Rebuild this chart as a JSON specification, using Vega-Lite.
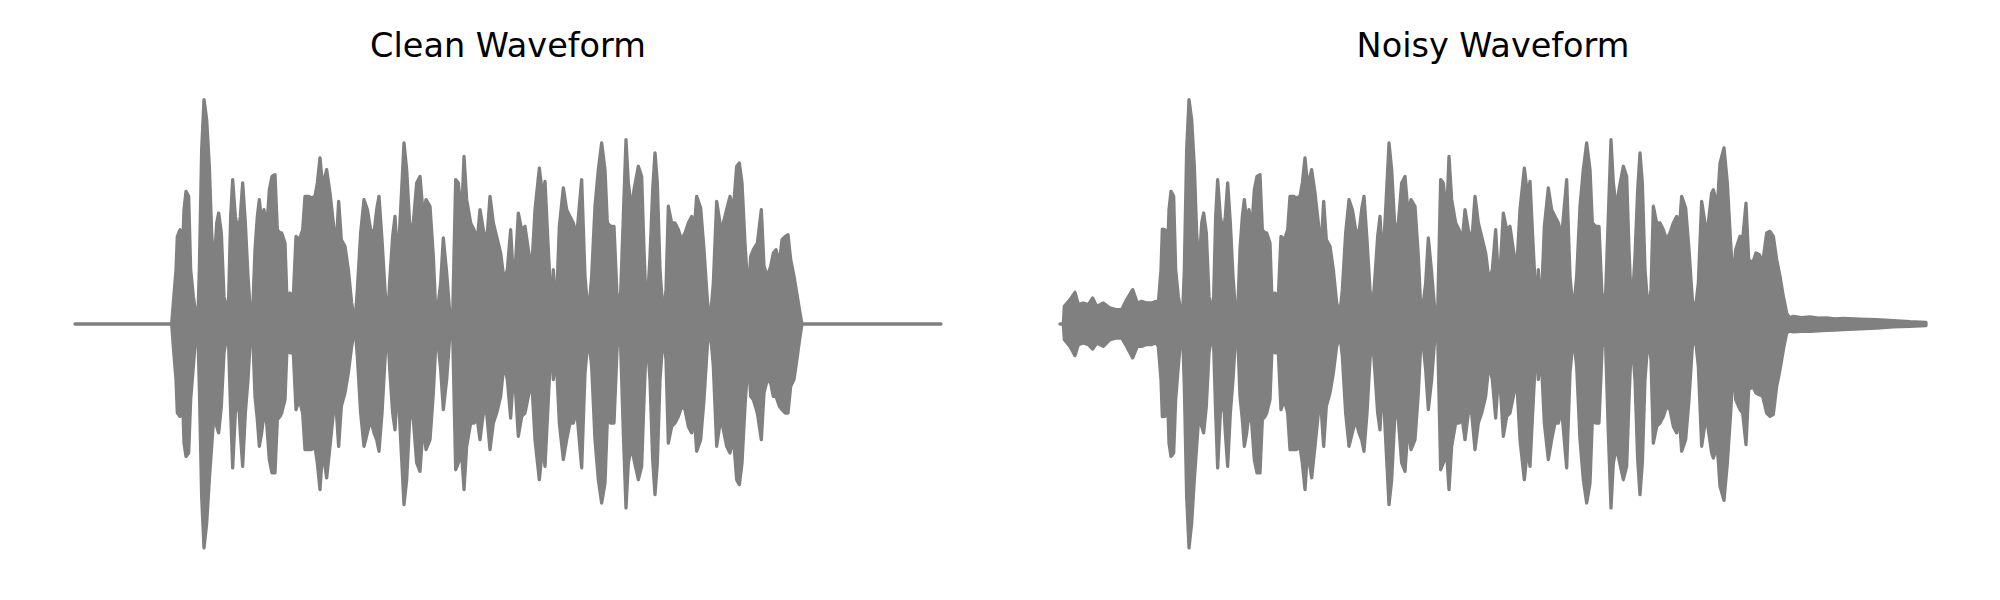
{
"$schema": "https://vega.github.io/schema/vega-lite/v6.json",
"background": "white",
"padding": {"left": 73, "top": 30, "right": 0, "bottom": 0},
"spacing": 119,
"bounds": "flush",
"config": {"view": {"stroke": null}, "title": {"font": "DejaVu Sans", "fontSize": 33.5, "fontWeight": "normal", "color": "#000000", "offset": 33, "anchor": "middle"}},
"datasets": {
"clean": [
{"frame":0,"hi":0,"lo":0},{"frame":290,"hi":0,"lo":0},{"frame":295,"hi":0.093,"lo":-0.099},{"frame":303,"hi":0.240,"lo":-0.246},{"frame":307,"hi":0.388,"lo":-0.394},{"frame":315,"hi":0.417,"lo":-0.409},{"frame":323,"hi":0.329,"lo":-0.335},{"frame":327,"hi":0.506,"lo":-0.527},{"frame":333,"hi":0.587,"lo":-0.586},{"frame":341,"hi":0.565,"lo":-0.571},{"frame":347,"hi":0.240,"lo":-0.335},{"frame":355,"hi":0.122,"lo":-0.187},{"frame":363,"hi":0.034,"lo":-0.040},{"frame":368,"hi":0,"lo":-0.003},{"frame":373,"hi":0.240,"lo":-0.276},{"frame":380,"hi":0.771,"lo":-0.763},{"frame":387,"hi":0.993,"lo":-0.991},{"frame":395,"hi":0.904,"lo":-0.881},{"frame":403,"hi":0.698,"lo":-0.689},{"frame":410,"hi":0.403,"lo":-0.541},{"frame":417,"hi":0.240,"lo":-0.394},{"frame":425,"hi":0.447,"lo":-0.453},{"frame":431,"hi":0.491,"lo":-0.482},{"frame":439,"hi":0.403,"lo":-0.364},{"frame":447,"hi":0.122,"lo":-0.128},{"frame":455,"hi":0.049,"lo":-0.055},{"frame":461,"hi":0.122,"lo":-0.099},{"frame":467,"hi":0.476,"lo":-0.394},{"frame":473,"hi":0.639,"lo":-0.637},{"frame":481,"hi":0.476,"lo":-0.394},{"frame":490,"hi":0.403,"lo":-0.320},{"frame":496,"hi":0.476,"lo":-0.482},{"frame":503,"hi":0.624,"lo":-0.630},{"frame":511,"hi":0.447,"lo":-0.394},{"frame":519,"hi":0.211,"lo":-0.246},{"frame":527,"hi":0.034,"lo":-0.040},{"frame":533,"hi":0.049,"lo":-0.040},{"frame":540,"hi":0.329,"lo":-0.320},{"frame":547,"hi":0.476,"lo":-0.423},{"frame":553,"hi":0.550,"lo":-0.541},{"frame":560,"hi":0.447,"lo":-0.482},{"frame":567,"hi":0.506,"lo":-0.394},{"frame":575,"hi":0.417,"lo":-0.438},{"frame":583,"hi":0.594,"lo":-0.600},{"frame":591,"hi":0.653,"lo":-0.659},{"frame":600,"hi":0.661,"lo":-0.659},{"frame":607,"hi":0.417,"lo":-0.423},{"frame":615,"hi":0.403,"lo":-0.409},
{"frame":620,"hi":0.403,"lo":-0.394},{"frame":630,"hi":0.358,"lo":-0.335},{"frame":637,"hi":0.063,"lo":-0.069},{"frame":645,"hi":0.137,"lo":-0.128},{"frame":655,"hi":0.122,"lo":-0.128},{"frame":663,"hi":0.388,"lo":-0.379},{"frame":673,"hi":0.373,"lo":-0.335},{"frame":683,"hi":0.417,"lo":-0.394},{"frame":690,"hi":0.565,"lo":-0.556},{"frame":700,"hi":0.565,"lo":-0.556},{"frame":710,"hi":0.558,"lo":-0.556},{"frame":720,"hi":0.565,"lo":-0.541},{"frame":727,"hi":0.624,"lo":-0.615},{"frame":735,"hi":0.735,"lo":-0.733},{"frame":743,"hi":0.609,"lo":-0.556},{"frame":755,"hi":0.683,"lo":-0.681},{"frame":765,"hi":0.580,"lo":-0.541},{"frame":775,"hi":0.447,"lo":-0.394},{"frame":783,"hi":0.329,"lo":-0.364},{"frame":791,"hi":0.543,"lo":-0.541},{"frame":799,"hi":0.373,"lo":-0.364},{"frame":810,"hi":0.344,"lo":-0.305},{"frame":820,"hi":0.240,"lo":-0.217},{"frame":830,"hi":0.093,"lo":-0.099},{"frame":840,"hi":0.004,"lo":-0.010},{"frame":847,"hi":0.152,"lo":-0.143},{"frame":857,"hi":0.403,"lo":-0.394},{"frame":867,"hi":0.550,"lo":-0.541},{"frame":877,"hi":0.506,"lo":-0.482},{"frame":887,"hi":0.417,"lo":-0.423},{"frame":897,"hi":0.403,"lo":-0.482},{"frame":905,"hi":0.506,"lo":-0.512},{"frame":912,"hi":0.565,"lo":-0.563},{"frame":921,"hi":0.373,"lo":-0.394},{"frame":930,"hi":0.152,"lo":-0.158},{"frame":937,"hi":0.004,"lo":-0.010},{"frame":945,"hi":0.211,"lo":-0.217},{"frame":953,"hi":0.388,"lo":-0.394},{"frame":960,"hi":0.476,"lo":-0.468},{"frame":968,"hi":0.270,"lo":-0.246},{"frame":977,"hi":0.506,"lo":-0.512},{"frame":987,"hi":0.801,"lo":-0.799},{"frame":995,"hi":0.683,"lo":-0.689},{"frame":1005,"hi":0.417,"lo":-0.394},{"frame":1015,"hi":0.447,"lo":-0.423},{"frame":1025,"hi":0.624,"lo":-0.615},{"frame":1035,"hi":0.653,"lo":-0.652},{"frame":1045,"hi":0.476,"lo":-0.438},{"frame":1053,"hi":0.550,"lo":-0.556},{"frame":1065,"hi":0.521,"lo":-0.512},{"frame":1075,"hi":0.299,"lo":-0.305},{"frame":1083,"hi":0.034,"lo":-0.069},{"frame":1090,"hi":0.093,"lo":-0.099},{"frame":1097,"hi":0.181,"lo":-0.202},{"frame":1105,"hi":0.381,"lo":-0.379},{"frame":1115,"hi":0.226,"lo":-0.246},{"frame":1125,"hi":0.034,"lo":-0.040},{"frame":1133,"hi":0.034,"lo":-0.040},{"frame":1142,"hi":0.639,"lo":-0.645},{"frame":1150,"hi":0.624,"lo":-0.615},{"frame":1160,"hi":0.476,"lo":-0.571},{"frame":1167,"hi":0.742,"lo":-0.733},{"frame":1175,"hi":0.550,"lo":-0.541},{"frame":1187,"hi":0.447,"lo":-0.438},{"frame":1197,"hi":0.417,"lo":-0.438},{"frame":1207,"hi":0.373,"lo":-0.423},{"frame":1215,"hi":0.506,"lo":-0.512},{"frame":1225,"hi":0.417,"lo":-0.394},{"frame":1235,"hi":0.358,"lo":-0.394},{"frame":1245,"hi":0.565,"lo":-0.556},{"frame":1255,"hi":0.447,"lo":-0.438},{"frame":1265,"hi":0.388,"lo":-0.394},
{"frame":1277,"hi":0.314,"lo":-0.320},{"frame":1287,"hi":0.196,"lo":-0.173},{"frame":1297,"hi":0.240,"lo":-0.246},{"frame":1307,"hi":0.417,"lo":-0.416},{"frame":1317,"hi":0.152,"lo":-0.187},{"frame":1330,"hi":0.491,"lo":-0.497},{"frame":1340,"hi":0.417,"lo":-0.409},{"frame":1350,"hi":0.432,"lo":-0.394},{"frame":1360,"hi":0.329,"lo":-0.320},{"frame":1370,"hi":0.240,"lo":-0.246},{"frame":1380,"hi":0.506,"lo":-0.512},{"frame":1393,"hi":0.690,"lo":-0.689},{"frame":1403,"hi":0.565,"lo":-0.541},{"frame":1410,"hi":0.631,"lo":-0.630},{"frame":1420,"hi":0.329,"lo":-0.335},{"frame":1430,"hi":0.034,"lo":-0.040},{"frame":1435,"hi":0.240,"lo":-0.246},{"frame":1443,"hi":0.034,"lo":-0.128},{"frame":1453,"hi":0.432,"lo":-0.438},{"frame":1465,"hi":0.602,"lo":-0.600},{"frame":1475,"hi":0.506,"lo":-0.512},{"frame":1485,"hi":0.476,"lo":-0.438},{"frame":1495,"hi":0.447,"lo":-0.438},{"frame":1505,"hi":0.388,"lo":-0.379},{"frame":1520,"hi":0.639,"lo":-0.637},{"frame":1530,"hi":0.211,"lo":-0.217},{"frame":1540,"hi":0.034,"lo":-0.055},{"frame":1550,"hi":0.211,"lo":-0.187},{"frame":1560,"hi":0.521,"lo":-0.512},{"frame":1570,"hi":0.683,"lo":-0.689},{"frame":1580,"hi":0.801,"lo":-0.792},{"frame":1590,"hi":0.683,"lo":-0.704},{"frame":1597,"hi":0.447,"lo":-0.423},{"frame":1607,"hi":0.432,"lo":-0.438},{"frame":1617,"hi":0.432,"lo":-0.438},{"frame":1627,"hi":0.093,"lo":-0.084},{"frame":1637,"hi":0.137,"lo":-0.099},{"frame":1645,"hi":0.476,"lo":-0.482},{"frame":1653,"hi":0.816,"lo":-0.814},{"frame":1660,"hi":0.624,"lo":-0.615},{"frame":1670,"hi":0.506,"lo":-0.541},{"frame":1677,"hi":0.594,"lo":-0.600},{"frame":1690,"hi":0.698,"lo":-0.689},{"frame":1700,"hi":0.653,"lo":-0.630},{"frame":1707,"hi":0.329,"lo":-0.335},{"frame":1715,"hi":0.034,"lo":-0.040},{"frame":1725,"hi":0.299,"lo":-0.246},{"frame":1733,"hi":0.594,"lo":-0.600},{"frame":1740,"hi":0.757,"lo":-0.755},{"frame":1747,"hi":0.624,"lo":-0.615},{"frame":1755,"hi":0.240,"lo":-0.246},{"frame":1765,"hi":0.034,"lo":-0.040},{"frame":1773,"hi":0.152,"lo":-0.158},{"frame":1780,"hi":0.521,"lo":-0.527},{"frame":1790,"hi":0.447,"lo":-0.453},{"frame":1800,"hi":0.447,"lo":-0.438},{"frame":1810,"hi":0.417,"lo":-0.409},{"frame":1820,"hi":0.373,"lo":-0.364},{"frame":1830,"hi":0.403,"lo":-0.379},{"frame":1840,"hi":0.447,"lo":-0.453},{"frame":1850,"hi":0.476,"lo":-0.482},{"frame":1857,"hi":0.403,"lo":-0.394},{"frame":1865,"hi":0.565,"lo":-0.563},{"frame":1877,"hi":0.513,"lo":-0.512},{"frame":1887,"hi":0.329,"lo":-0.335},{"frame":1897,"hi":0.108,"lo":-0.099},{"frame":1905,"hi":0.004,"lo":-0.010},{"frame":1915,"hi":0.181,"lo":-0.187},{"frame":1925,"hi":0.543,"lo":-0.541},
{"frame":1938,"hi":0.417,"lo":-0.409},{"frame":1945,"hi":0.447,"lo":-0.468},{"frame":1955,"hi":0.506,"lo":-0.541},{"frame":1965,"hi":0.565,"lo":-0.571},{"frame":1975,"hi":0.506,"lo":-0.497},{"frame":1985,"hi":0.698,"lo":-0.689},{"frame":1993,"hi":0.712,"lo":-0.711},{"frame":2001,"hi":0.624,"lo":-0.615},{"frame":2010,"hi":0.358,"lo":-0.364},{"frame":2020,"hi":0.122,"lo":-0.143},{"frame":2027,"hi":0.299,"lo":-0.320},{"frame":2035,"hi":0.329,"lo":-0.335},{"frame":2047,"hi":0.358,"lo":-0.394},{"frame":2059,"hi":0.506,"lo":-0.512},{"frame":2067,"hi":0.255,"lo":-0.305},{"frame":2077,"hi":0.211,"lo":-0.246},{"frame":2087,"hi":0.255,"lo":-0.261},{"frame":2095,"hi":0.314,"lo":-0.320},{"frame":2103,"hi":0.329,"lo":-0.320},{"frame":2113,"hi":0.270,"lo":-0.364},{"frame":2121,"hi":0.373,"lo":-0.379},{"frame":2131,"hi":0.388,"lo":-0.394},{"frame":2139,"hi":0.395,"lo":-0.394},{"frame":2147,"hi":0.285,"lo":-0.276},{"frame":2157,"hi":0.211,"lo":-0.246},{"frame":2167,"hi":0.122,"lo":-0.143},{"frame":2175,"hi":0.049,"lo":-0.055},{"frame":2181,"hi":0,"lo":0},{"frame":2598,"hi":0,"lo":0}
],
"noisy": [
{"frame":0,"hi":0,"lo":0},{"frame":10,"hi":0,"lo":0},{"frame":13,"hi":0.078,"lo":-0.069},{"frame":30,"hi":0.108,"lo":-0.099},{"frame":45,"hi":0.140,"lo":-0.140},{"frame":55,"hi":0.086,"lo":-0.091},{"frame":70,"hi":0.093,"lo":-0.084},{"frame":85,"hi":0.086,"lo":-0.091},{"frame":98,"hi":0.115,"lo":-0.111},{"frame":110,"hi":0.078,"lo":-0.084},{"frame":130,"hi":0.093,"lo":-0.099},{"frame":150,"hi":0.071,"lo":-0.069},{"frame":170,"hi":0.063,"lo":-0.062},{"frame":185,"hi":0.063,"lo":-0.062},{"frame":200,"hi":0.108,"lo":-0.099},{"frame":218,"hi":0.152,"lo":-0.150},{"frame":232,"hi":0.093,"lo":-0.099},{"frame":245,"hi":0.100,"lo":-0.099},{"frame":260,"hi":0.093,"lo":-0.091},{"frame":275,"hi":0.093,"lo":-0.091},{"frame":288,"hi":0.100,"lo":-0.084},{"frame":295,"hi":0.093,"lo":-0.099},{"frame":303,"hi":0.240,"lo":-0.246},{"frame":307,"hi":0.420,"lo":-0.410},{"frame":315,"hi":0.417,"lo":-0.409},{"frame":323,"hi":0.329,"lo":-0.335},{"frame":327,"hi":0.506,"lo":-0.527},{"frame":333,"hi":0.587,"lo":-0.586},{"frame":341,"hi":0.565,"lo":-0.571},{"frame":347,"hi":0.240,"lo":-0.335},{"frame":355,"hi":0.122,"lo":-0.187},{"frame":363,"hi":0.050,"lo":-0.050},{"frame":368,"hi":0.050,"lo":-0.050},{"frame":373,"hi":0.240,"lo":-0.276},{"frame":380,"hi":0.771,"lo":-0.763},{"frame":387,"hi":0.993,"lo":-0.991},{"frame":395,"hi":0.904,"lo":-0.881},{"frame":403,"hi":0.698,"lo":-0.689},{"frame":410,"hi":0.403,"lo":-0.541},{"frame":417,"hi":0.240,"lo":-0.394},{"frame":425,"hi":0.447,"lo":-0.453},{"frame":431,"hi":0.491,"lo":-0.482},{"frame":439,"hi":0.403,"lo":-0.364},{"frame":447,"hi":0.122,"lo":-0.128},{"frame":455,"hi":0.050,"lo":-0.055},{"frame":461,"hi":0.122,"lo":-0.099},{"frame":467,"hi":0.476,"lo":-0.394},{"frame":473,"hi":0.639,"lo":-0.637},{"frame":481,"hi":0.476,"lo":-0.394},{"frame":490,"hi":0.403,"lo":-0.320},{"frame":496,"hi":0.476,"lo":-0.482},{"frame":503,"hi":0.624,"lo":-0.630},{"frame":511,"hi":0.447,"lo":-0.394},{"frame":519,"hi":0.211,"lo":-0.246},{"frame":527,"hi":0.050,"lo":-0.050},{"frame":533,"hi":0.050,"lo":-0.050},{"frame":540,"hi":0.329,"lo":-0.320},{"frame":547,"hi":0.476,"lo":-0.423},{"frame":553,"hi":0.550,"lo":-0.541},{"frame":560,"hi":0.447,"lo":-0.482},{"frame":567,"hi":0.506,"lo":-0.394},{"frame":575,"hi":0.417,"lo":-0.438},{"frame":583,"hi":0.594,"lo":-0.600},{"frame":591,"hi":0.653,"lo":-0.659},{"frame":600,"hi":0.661,"lo":-0.659},{"frame":607,"hi":0.417,"lo":-0.423},{"frame":615,"hi":0.403,"lo":-0.409},
{"frame":620,"hi":0.403,"lo":-0.394},{"frame":630,"hi":0.358,"lo":-0.335},{"frame":637,"hi":0.063,"lo":-0.069},{"frame":645,"hi":0.137,"lo":-0.128},{"frame":655,"hi":0.122,"lo":-0.128},{"frame":663,"hi":0.388,"lo":-0.379},{"frame":673,"hi":0.373,"lo":-0.335},{"frame":683,"hi":0.417,"lo":-0.394},{"frame":690,"hi":0.565,"lo":-0.556},{"frame":700,"hi":0.565,"lo":-0.556},{"frame":710,"hi":0.558,"lo":-0.556},{"frame":720,"hi":0.565,"lo":-0.541},{"frame":727,"hi":0.624,"lo":-0.615},{"frame":735,"hi":0.735,"lo":-0.733},{"frame":743,"hi":0.609,"lo":-0.556},{"frame":755,"hi":0.683,"lo":-0.681},{"frame":765,"hi":0.580,"lo":-0.541},{"frame":775,"hi":0.447,"lo":-0.394},{"frame":783,"hi":0.329,"lo":-0.364},{"frame":791,"hi":0.543,"lo":-0.541},{"frame":799,"hi":0.373,"lo":-0.364},{"frame":810,"hi":0.344,"lo":-0.305},{"frame":820,"hi":0.240,"lo":-0.217},{"frame":830,"hi":0.093,"lo":-0.099},{"frame":840,"hi":0.050,"lo":-0.050},{"frame":847,"hi":0.152,"lo":-0.143},{"frame":857,"hi":0.403,"lo":-0.394},{"frame":867,"hi":0.550,"lo":-0.541},{"frame":877,"hi":0.506,"lo":-0.482},{"frame":887,"hi":0.417,"lo":-0.423},{"frame":897,"hi":0.403,"lo":-0.482},{"frame":905,"hi":0.506,"lo":-0.512},{"frame":912,"hi":0.565,"lo":-0.563},{"frame":921,"hi":0.373,"lo":-0.394},{"frame":930,"hi":0.152,"lo":-0.158},{"frame":937,"hi":0.050,"lo":-0.050},{"frame":945,"hi":0.211,"lo":-0.217},{"frame":953,"hi":0.388,"lo":-0.394},{"frame":960,"hi":0.476,"lo":-0.468},{"frame":968,"hi":0.270,"lo":-0.246},{"frame":977,"hi":0.506,"lo":-0.512},{"frame":987,"hi":0.801,"lo":-0.799},{"frame":995,"hi":0.683,"lo":-0.689},{"frame":1005,"hi":0.417,"lo":-0.394},{"frame":1015,"hi":0.447,"lo":-0.423},{"frame":1025,"hi":0.624,"lo":-0.615},{"frame":1035,"hi":0.653,"lo":-0.652},{"frame":1045,"hi":0.476,"lo":-0.438},{"frame":1053,"hi":0.550,"lo":-0.556},{"frame":1065,"hi":0.521,"lo":-0.512},{"frame":1075,"hi":0.299,"lo":-0.305},{"frame":1083,"hi":0.050,"lo":-0.069},{"frame":1090,"hi":0.093,"lo":-0.099},{"frame":1097,"hi":0.181,"lo":-0.202},{"frame":1105,"hi":0.381,"lo":-0.379},{"frame":1115,"hi":0.226,"lo":-0.246},{"frame":1125,"hi":0.050,"lo":-0.050},{"frame":1133,"hi":0.050,"lo":-0.050},{"frame":1142,"hi":0.639,"lo":-0.645},{"frame":1150,"hi":0.624,"lo":-0.615},{"frame":1160,"hi":0.476,"lo":-0.571},{"frame":1167,"hi":0.742,"lo":-0.733},{"frame":1175,"hi":0.550,"lo":-0.541},{"frame":1187,"hi":0.447,"lo":-0.438},{"frame":1197,"hi":0.417,"lo":-0.438},{"frame":1207,"hi":0.373,"lo":-0.423},{"frame":1215,"hi":0.506,"lo":-0.512},{"frame":1225,"hi":0.417,"lo":-0.394},{"frame":1235,"hi":0.358,"lo":-0.394},{"frame":1245,"hi":0.565,"lo":-0.556},{"frame":1255,"hi":0.447,"lo":-0.438},{"frame":1265,"hi":0.388,"lo":-0.394},
{"frame":1277,"hi":0.314,"lo":-0.320},{"frame":1287,"hi":0.196,"lo":-0.173},{"frame":1297,"hi":0.240,"lo":-0.246},{"frame":1307,"hi":0.417,"lo":-0.416},{"frame":1317,"hi":0.152,"lo":-0.187},{"frame":1330,"hi":0.491,"lo":-0.497},{"frame":1340,"hi":0.417,"lo":-0.409},{"frame":1350,"hi":0.432,"lo":-0.394},{"frame":1360,"hi":0.329,"lo":-0.320},{"frame":1370,"hi":0.240,"lo":-0.246},{"frame":1380,"hi":0.506,"lo":-0.512},{"frame":1393,"hi":0.690,"lo":-0.689},{"frame":1403,"hi":0.565,"lo":-0.541},{"frame":1410,"hi":0.631,"lo":-0.630},{"frame":1420,"hi":0.329,"lo":-0.335},{"frame":1430,"hi":0.050,"lo":-0.050},{"frame":1435,"hi":0.240,"lo":-0.246},{"frame":1443,"hi":0.050,"lo":-0.128},{"frame":1453,"hi":0.432,"lo":-0.438},{"frame":1465,"hi":0.602,"lo":-0.600},{"frame":1475,"hi":0.506,"lo":-0.512},{"frame":1485,"hi":0.476,"lo":-0.438},{"frame":1495,"hi":0.447,"lo":-0.438},{"frame":1505,"hi":0.388,"lo":-0.379},{"frame":1520,"hi":0.639,"lo":-0.637},{"frame":1530,"hi":0.211,"lo":-0.217},{"frame":1540,"hi":0.050,"lo":-0.055},{"frame":1550,"hi":0.211,"lo":-0.187},{"frame":1560,"hi":0.521,"lo":-0.512},{"frame":1570,"hi":0.683,"lo":-0.689},{"frame":1580,"hi":0.801,"lo":-0.792},{"frame":1590,"hi":0.683,"lo":-0.704},{"frame":1597,"hi":0.447,"lo":-0.423},{"frame":1607,"hi":0.432,"lo":-0.438},{"frame":1617,"hi":0.432,"lo":-0.438},{"frame":1627,"hi":0.093,"lo":-0.084},{"frame":1637,"hi":0.137,"lo":-0.099},{"frame":1645,"hi":0.476,"lo":-0.482},{"frame":1653,"hi":0.816,"lo":-0.814},{"frame":1660,"hi":0.624,"lo":-0.615},{"frame":1670,"hi":0.506,"lo":-0.541},{"frame":1677,"hi":0.594,"lo":-0.600},{"frame":1690,"hi":0.698,"lo":-0.689},{"frame":1700,"hi":0.653,"lo":-0.630},{"frame":1707,"hi":0.329,"lo":-0.335},{"frame":1715,"hi":0.050,"lo":-0.050},{"frame":1725,"hi":0.299,"lo":-0.246},{"frame":1733,"hi":0.594,"lo":-0.600},{"frame":1740,"hi":0.757,"lo":-0.755},{"frame":1747,"hi":0.624,"lo":-0.615},{"frame":1755,"hi":0.240,"lo":-0.246},{"frame":1765,"hi":0.050,"lo":-0.050},{"frame":1773,"hi":0.152,"lo":-0.158},{"frame":1780,"hi":0.521,"lo":-0.527},{"frame":1790,"hi":0.447,"lo":-0.453},{"frame":1800,"hi":0.447,"lo":-0.438},{"frame":1810,"hi":0.417,"lo":-0.409},{"frame":1820,"hi":0.373,"lo":-0.364},{"frame":1830,"hi":0.403,"lo":-0.379},{"frame":1840,"hi":0.447,"lo":-0.453},{"frame":1850,"hi":0.476,"lo":-0.482},{"frame":1857,"hi":0.403,"lo":-0.394},{"frame":1865,"hi":0.565,"lo":-0.563},{"frame":1877,"hi":0.513,"lo":-0.512},{"frame":1887,"hi":0.329,"lo":-0.335},{"frame":1897,"hi":0.108,"lo":-0.099},{"frame":1905,"hi":0.050,"lo":-0.050},{"frame":1915,"hi":0.181,"lo":-0.187},{"frame":1925,"hi":0.543,"lo":-0.541},
{"frame":1938,"hi":0.417,"lo":-0.409},{"frame":1945,"hi":0.447,"lo":-0.468},{"frame":1955,"hi":0.580,"lo":-0.571},{"frame":1960,"hi":0.594,"lo":-0.593},{"frame":1972,"hi":0.521,"lo":-0.541},{"frame":1980,"hi":0.712,"lo":-0.718},{"frame":1992,"hi":0.779,"lo":-0.780},{"frame":2002,"hi":0.624,"lo":-0.615},{"frame":2012,"hi":0.358,"lo":-0.394},{"frame":2020,"hi":0.181,"lo":-0.173},{"frame":2027,"hi":0.329,"lo":-0.335},{"frame":2040,"hi":0.388,"lo":-0.379},{"frame":2048,"hi":0.373,"lo":-0.394},{"frame":2058,"hi":0.535,"lo":-0.534},{"frame":2066,"hi":0.285,"lo":-0.291},{"frame":2078,"hi":0.270,"lo":-0.276},{"frame":2088,"hi":0.314,"lo":-0.305},{"frame":2098,"hi":0.307,"lo":-0.313},{"frame":2108,"hi":0.270,"lo":-0.320},{"frame":2120,"hi":0.403,"lo":-0.394},{"frame":2130,"hi":0.410,"lo":-0.409},{"frame":2140,"hi":0.388,"lo":-0.400},{"frame":2150,"hi":0.285,"lo":-0.276},{"frame":2160,"hi":0.211,"lo":-0.202},{"frame":2170,"hi":0.122,"lo":-0.114},{"frame":2180,"hi":0.049,"lo":-0.040},{"frame":2188,"hi":0.027,"lo":-0.032},{"frame":2200,"hi":0.034,"lo":-0.035},{"frame":2225,"hi":0.028,"lo":-0.033},{"frame":2250,"hi":0.031,"lo":-0.032},{"frame":2275,"hi":0.026,"lo":-0.030},{"frame":2300,"hi":0.027,"lo":-0.028},{"frame":2325,"hi":0.023,"lo":-0.027},{"frame":2350,"hi":0.025,"lo":-0.025},{"frame":2400,"hi":0.022,"lo":-0.022},{"frame":2450,"hi":0.019,"lo":-0.018},{"frame":2500,"hi":0.015,"lo":-0.013},{"frame":2550,"hi":0.010,"lo":-0.010},{"frame":2598,"hi":0.007,"lo":-0.007}
]
},
"hconcat": [
{"title": "Clean Waveform", "data": {"name": "clean"}, "width": 866, "height": 452,
 "mark": {"type": "area", "fill": "#808080", "stroke": "#808080", "strokeWidth": 3.3, "strokeJoin": "round", "strokeCap": "round", "interpolate": "linear", "fillOpacity": 1},
 "encoding": {
  "x": {"field": "frame", "type": "quantitative", "scale": {"domain": [0, 2598], "nice": false, "zero": false}, "axis": null},
  "y": {"field": "hi", "type": "quantitative", "scale": {"domain": [-1, 1], "nice": false}, "axis": null},
  "y2": {"field": "lo"}
 }},
{"title": "Noisy Waveform", "data": {"name": "noisy"}, "width": 866, "height": 452,
 "mark": {"type": "area", "fill": "#808080", "stroke": "#808080", "strokeWidth": 3.3, "strokeJoin": "round", "strokeCap": "round", "interpolate": "linear", "fillOpacity": 1},
 "encoding": {
  "x": {"field": "frame", "type": "quantitative", "scale": {"domain": [0, 2598], "nice": false, "zero": false}, "axis": null},
  "y": {"field": "hi", "type": "quantitative", "scale": {"domain": [-1, 1], "nice": false}, "axis": null},
  "y2": {"field": "lo"}
 }}
]
}
